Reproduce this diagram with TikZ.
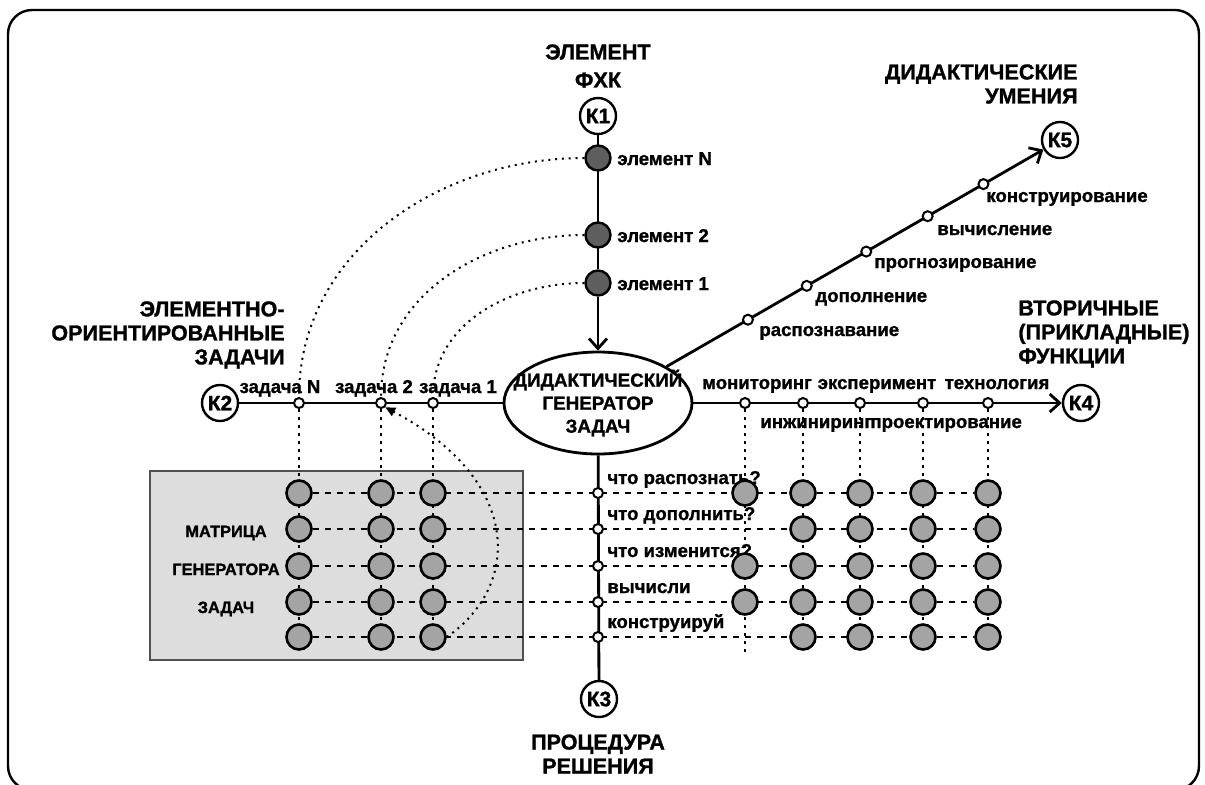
\documentclass[tikz,border=0pt]{standalone}
\usepackage{fontspec}
\setmainfont{Liberation Sans}[BoldFeatures={FakeBold=1.2}]
\usetikzlibrary{arrows.meta, positioning, shapes.geometric, backgrounds}
\definecolor{mxDark}{HTML}{5E5E5E}
\definecolor{mxMid}{HTML}{A4A4A4}
\definecolor{mxBox}{HTML}{DDDDDD}
\definecolor{mxEdge}{HTML}{505050}
\tikzset{
  frame/.style    = {line width=1.2pt, rounded corners=12pt},
  mainline/.style = {line width=1.4pt, black},
  barb/.style     = {-{Straight Barb[length=5pt, width=9pt]}},
  knode/.style    = {circle, draw, line width=1.2pt, fill=white, minimum size=18pt,
                     inner sep=0pt, font=\bfseries\fontsize{10.5}{12}\selectfont},
  gen/.style      = {ellipse, draw, line width=1.4pt, fill=white, minimum width=94pt,
                     minimum height=51pt, inner sep=0pt},
  gentxt/.style   = {align=center, inner sep=0pt, font=\bfseries\fontsize{9.4}{11.5}\selectfont},
  elem/.style     = {circle, draw, line width=1.2pt, fill=mxDark, minimum size=12.5pt, inner sep=0pt},
  cell/.style     = {circle, draw, line width=1.3pt, fill=mxMid, minimum size=12.5pt, inner sep=0pt},
  openpt/.style   = {circle, draw, line width=1pt, fill=white, minimum size=5pt, inner sep=0pt},
  lbl/.style      = {font=\bfseries\fontsize{9.3}{11}\selectfont, inner sep=1pt},
  ttl/.style      = {font=\bfseries\fontsize{10.8}{12}\selectfont, inner sep=0pt},
  mxlbl/.style    = {font=\bfseries\fontsize{8.2}{19}\selectfont, align=center, inner sep=0pt},
  vdot/.style     = {line width=1.4pt, dash pattern=on 1.5pt off 2.5pt},
  hdash/.style    = {line width=1pt, dash pattern=on 3pt off 3pt},
  arcdot/.style   = {line width=1pt, dash pattern=on 1pt off 2.4pt},
}

\begin{document}
\begin{tikzpicture}[x=0.5pt, y=-0.5pt]
  \useasboundingbox (0,0) rectangle (1205,784);
  \draw[frame] (8,10) rectangle (1199,790);

  % poles and the generator
  \node[knode] (K1) at (598,116) {К1};
  \node[knode] (K2) at (220,403) {К2};
  \node[knode] (K3) at (599,699) {К3};
  \node[knode] (K4) at (1081,403) {К4};
  \node[knode] (K5) at (1060,140) {К5};
  \node[gen, label={[gentxt]center:ДИДАКТИЧЕСКИЙ\\ГЕНЕРАТОР\\ЗАДАЧ}] (gen) at (598,403) {};

  \node[ttl, align=center] (tK1) at (598,66) {ЭЛЕМЕНТ\\[2pt]ФХК};
  \node[ttl, align=right, anchor=east] (tK2) at (285,335) {ЭЛЕМЕНТНО-\\ОРИЕНТИРОВАННЫЕ\\ЗАДАЧИ};
  \node[ttl, align=center] (tK3) at (598,754) {ПРОЦЕДУРА\\РЕШЕНИЯ};
  \node[ttl, align=left, anchor=west] (tK4) at (1018,334) {ВТОРИЧНЫЕ\\(ПРИКЛАДНЫЕ)\\ФУНКЦИИ};
  \node[ttl, align=right, anchor=east] (tK5) at (1078,84) {ДИДАКТИЧЕСКИЕ\\УМЕНИЯ};

  % K1: elements
  \node[elem] (eN) at (598,158) {};
  \node[elem] (e2) at (598,235) {};
  \node[elem] (e1) at (598,283) {};
  \node[lbl, anchor=base west] (leN) at (615,165) {элемент N};
  \node[lbl, anchor=base west] (le2) at (615,242) {элемент 2};
  \node[lbl, anchor=base west] (le1) at (615,290) {элемент 1};

  % K2: tasks
  \node[openpt] (tN) at (299,403) {};
  \node[openpt] (t2) at (381,403) {};
  \node[openpt] (t1) at (433,403) {};
  \node[lbl, anchor=base] (ltN) at (280,393) {задача N};
  \node[lbl, anchor=base] (lt2) at (374,393) {задача 2};
  \node[lbl, anchor=base] (lt1) at (458,393) {задача 1};

  % K4: applied functions
  \foreach \i/\x in {1/745,2/803,3/860,4/923,5/988}
    \node[openpt] (f\i) at (\x,403) {};
  \node[lbl, anchor=base] (lf1) at (757,389) {мониторинг};
  \node[lbl, anchor=base] (lf3) at (877,389) {эксперимент};
  \node[lbl, anchor=base] (lf5) at (997,389) {технология};
  \node[lbl, anchor=base west] (lf2) at (758,428) {инжиниринг};
  \node[lbl, anchor=base west] (lf4) at (868,428) {проектирование};

  % K3: solution procedure
  \foreach \r/\y in {1/493,2/529,3/566,4/602,5/637}
    \node[openpt] (p\r) at (598,\y) {};
  \node[lbl, anchor=base west] (lp1) at (605,484) {что распознать?};
  \node[lbl, anchor=base west] (lp2) at (605,520) {что дополнить?};
  \node[lbl, anchor=base west] (lp3) at (605,557) {что изменится?};
  \node[lbl, anchor=base west] (lp4) at (605,593) {вычисли};
  \node[lbl, anchor=base west] (lp5) at (605,628) {конструируй};

  % K5: didactic skills
  \draw[mainline, barb] (gen.28) -- (K5)
    node[openpt, pos=0.216] (s1) {} node[openpt, pos=0.372] (s2) {}
    node[openpt, pos=0.530] (s3) {} node[openpt, pos=0.693] (s4) {}
    node[openpt, pos=0.841] (s5) {};
  \node[lbl, anchor=base west] (ls1) at (757,336) {распознавание};
  \node[lbl, anchor=base west] (ls2) at (813,302) {дополнение};
  \node[lbl, anchor=base west] (ls3) at (872,268) {прогнозирование};
  \node[lbl, anchor=base west] (ls4) at (935,235) {вычисление};
  \node[lbl, anchor=base west] (ls5) at (984,202) {конструирование};

  % matrix of the generator
  \node[mxlbl] (mxt) at (226,571) {МАТРИЦА\\ГЕНЕРАТОРА\\ЗАДАЧ};
  \foreach \c/\x in {1/299,2/381,3/433}
    \foreach \r/\y in {1/493,2/529,3/566,4/602,5/637}
      \node[cell] (m-\c-\r) at (\x,\y) {};
  \foreach \c/\x in {2/803,3/860,4/923,5/988}
    \foreach \r/\y in {1/493,2/529,3/566,4/602,5/637}
      \node[cell] (r-\c-\r) at (\x,\y) {};
  \foreach \r/\y in {1/493,3/566,4/602}
    \node[cell] (r-1-\r) at (745,\y) {};
  \coordinate (f1end) at (745,655);

  \begin{scope}[on background layer]
    \filldraw[fill=mxBox, draw=mxEdge, line width=0.8pt] (150,471) rectangle (523,660);
    % axes
    \draw[mainline] (K1) -- (e1);
    \draw[mainline, barb] (e1) -- (gen);
    \draw[mainline] (K2) -- (gen);
    \draw[mainline, barb] (gen) -- (K4);
    \draw[mainline] (gen) -- (K3);
    % grid links
    \foreach \r in {1,...,5}
      \draw[hdash] (m-1-\r) -- (r-5-\r);
    \draw[vdot] (tN) -- (m-1-5);
    \draw[vdot] (t2) -- (m-2-5);
    \draw[vdot] (t1) -- (m-3-5);
    \draw[vdot] (f1) -- (f1end);
    \foreach \c in {2,...,5}
      \draw[vdot] (f\c) -- (r-\c-5);
    % element -> task arcs
    \draw[arcdot] (eN.west) to[out=180, in=90] (tN.north);
    \draw[arcdot] (e2.west) to[out=180, in=90] (t2.north);
    \draw[arcdot] (e1.west) to[out=180, in=90] (t1.north);
    \draw[arcdot, -{Triangle[length=5pt, width=4.5pt]}]
      (m-3-5.east) .. controls (522,585) and (522,480) .. (t2.south east);
  \end{scope}
\end{tikzpicture}
\end{document}
